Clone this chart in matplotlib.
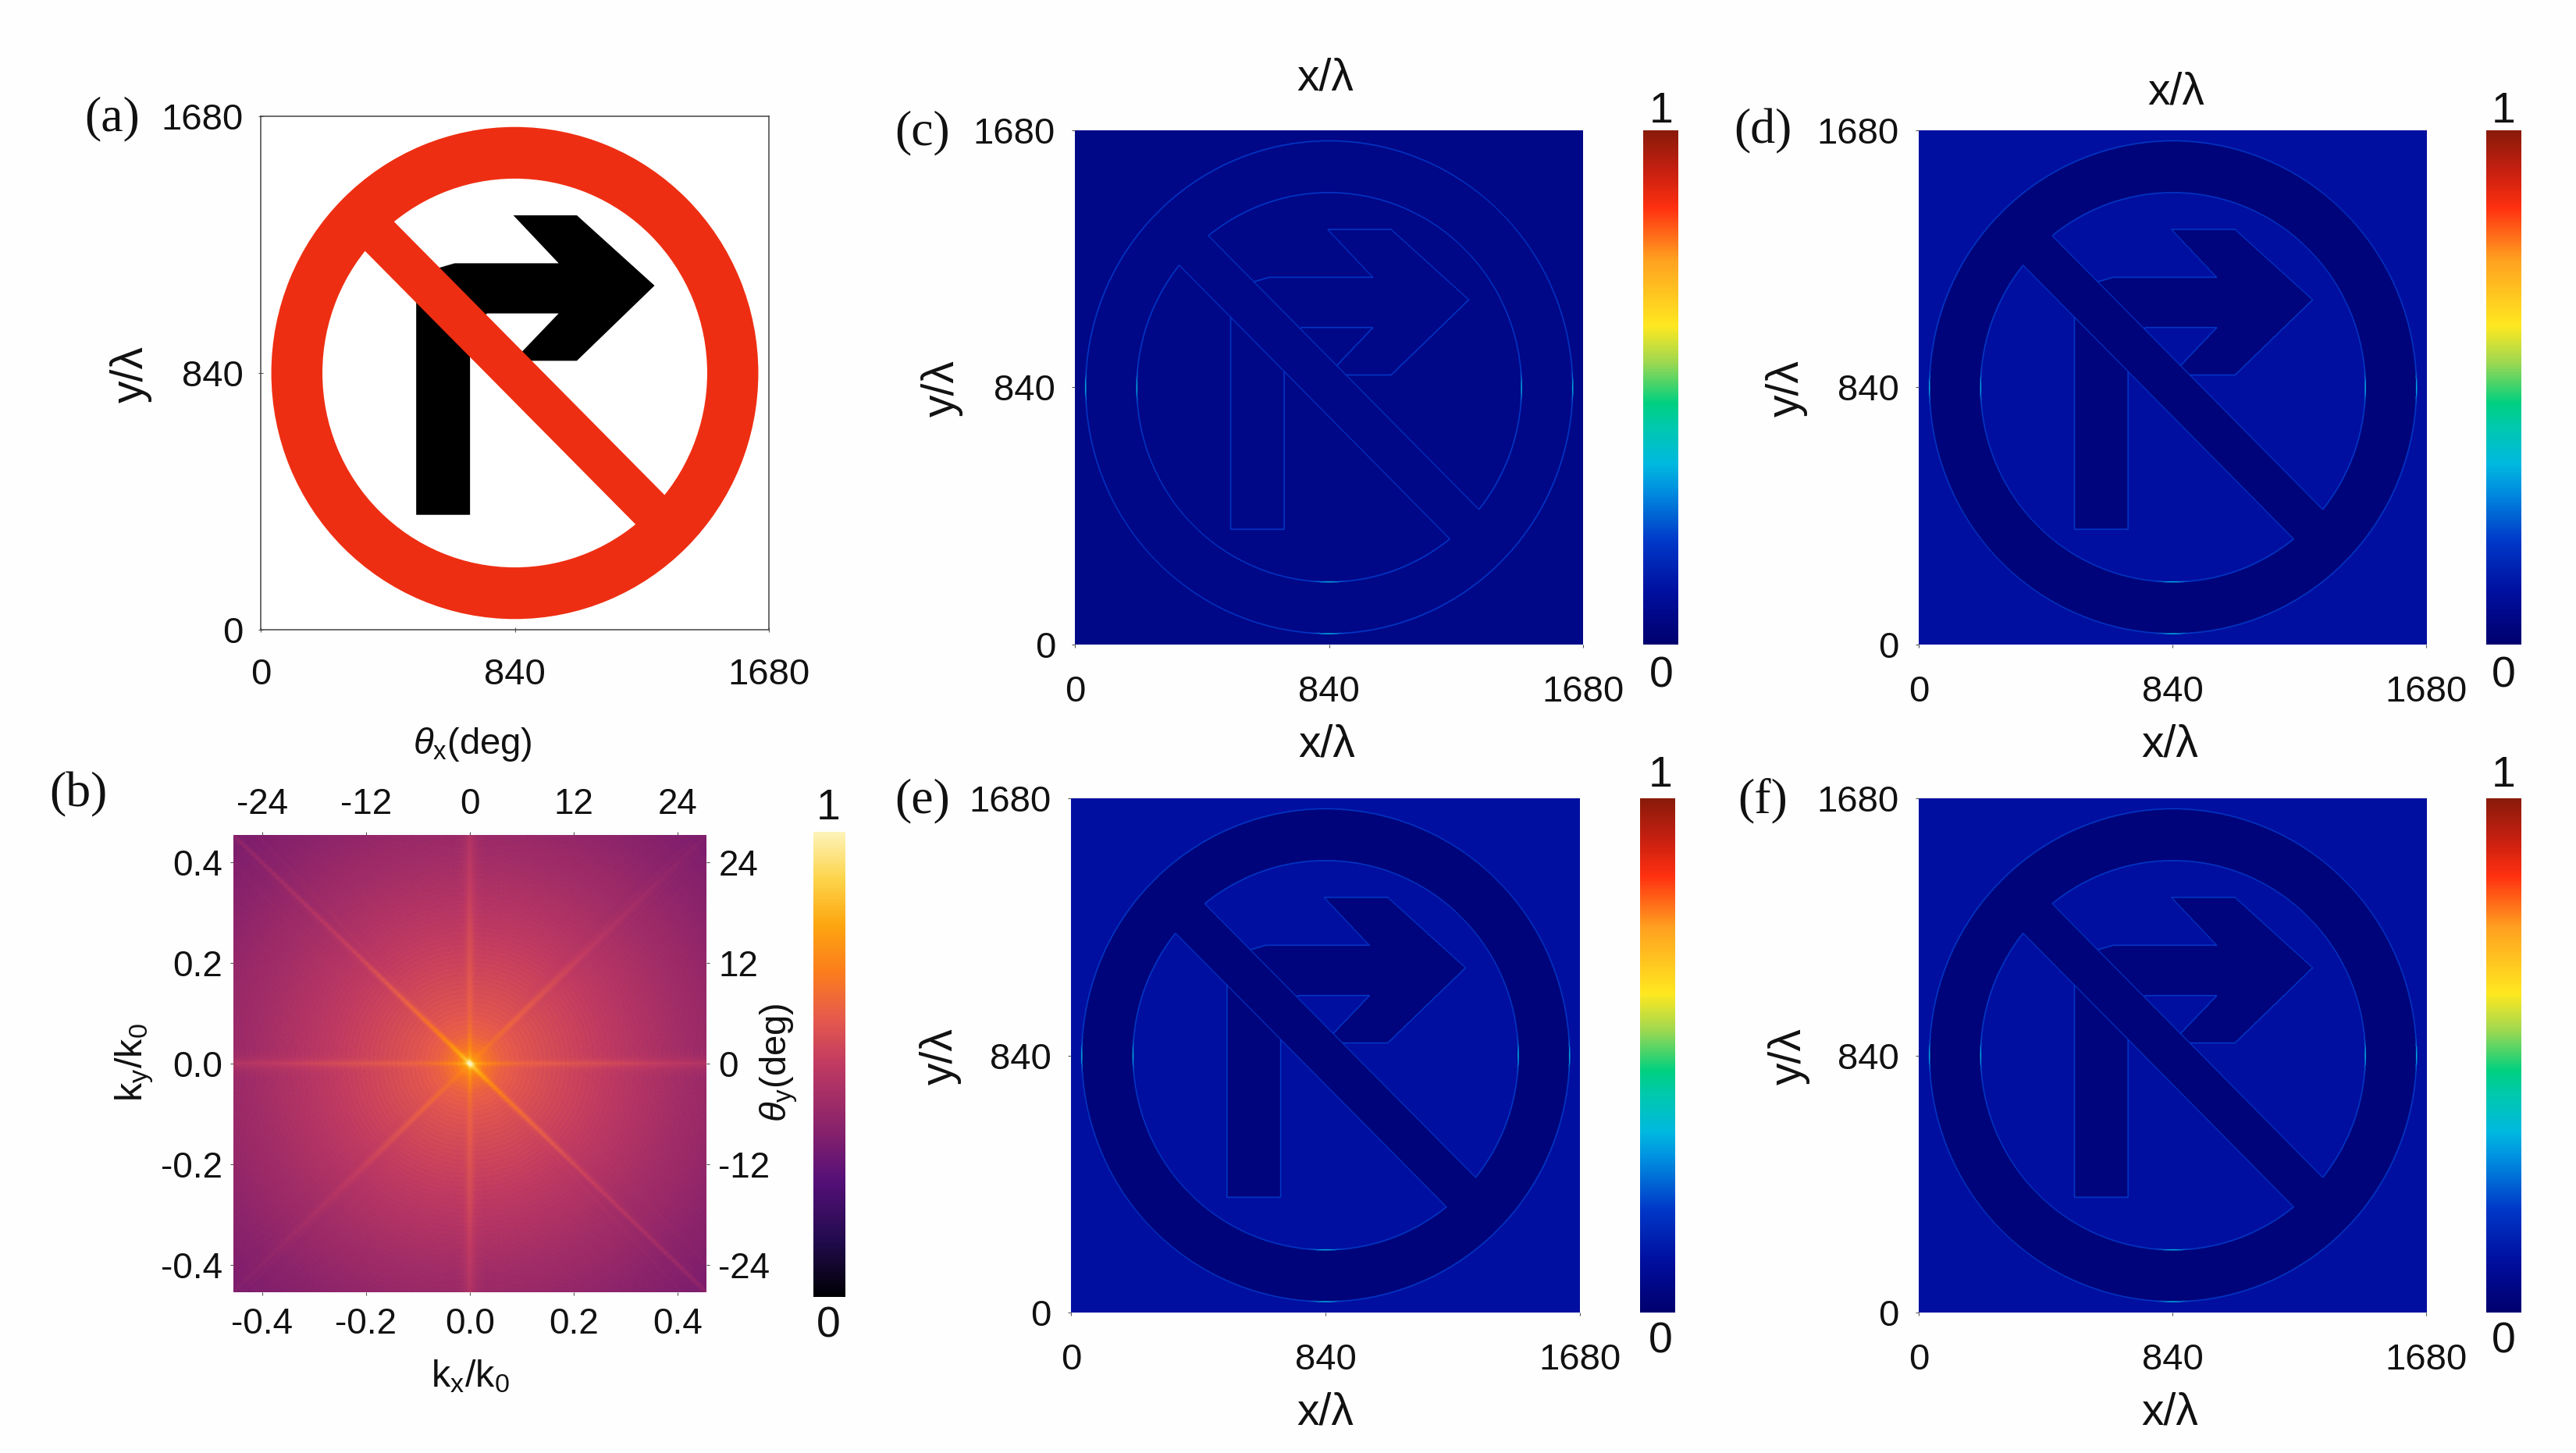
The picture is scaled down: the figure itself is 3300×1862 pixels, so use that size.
import numpy as np
import matplotlib
matplotlib.use("Agg")
import matplotlib.pyplot as plt
from matplotlib.path import Path
from matplotlib.patches import Annulus, Polygon
from matplotlib.colors import LinearSegmentedColormap, Normalize
from matplotlib.cm import ScalarMappable

plt.rcParams['font.family'] = ['Liberation Sans', 'DejaVu Sans']
plt.rcParams['mathtext.fontset'] = 'custom'
plt.rcParams['mathtext.rm'] = 'Liberation Sans'
plt.rcParams['mathtext.it'] = 'Liberation Sans:italic'
plt.rcParams['mathtext.default'] = 'regular'

# ---------- data ----------
SPACE_TICKS = [0, 840, 1680]
SPACE_LABELS = ['0', '840', '1680']
K_TICKS = [-0.4, -0.2, 0.0, 0.2, 0.4]
K_LABELS = ['-0.4', '-0.2', '0.0', '0.2', '0.4']
ANGLE_LABELS = ['-24', '-12', '0', '12', '24']
CBAR_LABELS = ['1', '0']

CENTER = (840, 840)
R_OUT = 805
R_IN = 636
BAR_XY = [(388, 1388), (1388, 388), (1292, 292), (292, 1292)]
ARROW_XY = [(514, 376), (692, 376), (692, 994), (749, 1035), (985, 1035), (835, 880),
            (1045, 880), (1302, 1126), (1045, 1356), (835, 1356), (985, 1199),
            (641, 1199), (575, 1180), (535, 1140), (514, 1075)]

# panels c, d, e, f
PANEL_NAMES = ['(c)', '(d)', '(e)', '(f)']
FIELD_OUTSIDE = [0.055, 0.105, 0.105, 0.105]
FIELD_ARROW = [0.055, 0.035, 0.035, 0.035]
FIELD_SIGN = [0.055, 0.030, 0.030, 0.030]
FIELD_EDGE = [0.20, 0.20, 0.20, 0.20]

# panel b: radial spectrum level and streak levels
K_RADIUS = [0.0, 0.012, 0.03, 0.06, 0.10, 0.18, 0.28, 0.38, 0.46, 0.55, 0.65]
SPEC_LEVEL = [0.86, 0.75, 0.68, 0.62, 0.585, 0.54, 0.49, 0.44, 0.405, 0.365, 0.33]
STREAK_R = [0.0, 0.03, 0.10, 0.30, 0.65]
STREAK_MAIN = [0.10, 0.11, 0.085, 0.045, 0.03]
STREAK_ANTI = [0.0, 0.015, 0.045, 0.03, 0.015]
STREAK_AXIS = [0.06, 0.05, 0.03, 0.04, 0.05]
AXIS_WIDTH = [0.003, 0.004, 0.006, 0.011, 0.02]

JET_POS = [0.0, 0.10, 0.20, 0.30, 0.35, 0.42, 0.47, 0.55, 0.62, 0.75, 0.85, 0.92, 1.0]
JET_COL = ['#00006e', '#000f9f', '#0038c8', '#0090e0', '#00b8e0', '#00c8b0', '#00d080',
           '#a0d850', '#ffe820', '#ffa020', '#ff3010', '#c82010', '#8a1a0a']
FIRE_POS = [0.0, 0.12, 0.25, 0.35, 0.50, 0.60, 0.70, 0.80, 0.90, 1.0]
FIRE_COL = ['#000004', '#220b4e', '#551078', '#84206c', '#c03a62', '#e65a4c', '#fb7d1c',
            '#fda50f', '#fdd44a', '#fdf3b8']

# ---------- layout (pixels) ----------
W, H = 3300, 1862
INK = '#111111'
jet = LinearSegmentedColormap.from_list('fieldjet', list(zip(JET_POS, JET_COL)))
fire = LinearSegmentedColormap.from_list('fire', list(zip(FIRE_POS, FIRE_COL)))

fig = plt.figure(figsize=(W / 100, H / 100), dpi=100, facecolor='#fefefe')


def add_axes(l, t, r, b):
    return fig.add_axes([l / W, 1 - b / H, (r - l) / W, (b - t) / H])


def label(x, y, s, size=34, rot=0, family=None):
    fig.text(x / W, 1 - y / H, s, ha='center', va='center', fontsize=size, rotation=rot,
             color=INK, family=family if family else plt.rcParams['font.family'])


def style_space(ax, xpad, ypad):
    ax.set_xlim(0, 1680)
    ax.set_ylim(0, 1680)
    ax.set_xticks(SPACE_TICKS, SPACE_LABELS)
    ax.set_yticks(SPACE_TICKS, SPACE_LABELS)
    ax.tick_params(axis='x', length=3, width=0.8, labelsize=34, pad=xpad, color='#555555', labelcolor=INK)
    ax.tick_params(axis='y', length=3, width=0.8, labelsize=34, pad=ypad, color='#555555', labelcolor=INK)


def sign_regions(n):
    """0 outside, 1 arrow, 2 ring and bar (the bar lies over the arrow)."""
    c = (np.arange(n) + 0.5) / n * 1680
    X, Y = np.meshgrid(c, c)
    pts = np.column_stack([X.ravel(), Y.ravel()])
    R = np.hypot(X - CENTER[0], Y - CENTER[1])
    ring = (R <= R_OUT) & (R >= R_IN)
    bar = Path(BAR_XY + [BAR_XY[0]]).contains_points(pts).reshape(n, n)
    arrow = Path(ARROW_XY + [ARROW_XY[0]]).contains_points(pts).reshape(n, n)
    reg = np.zeros((n, n), dtype=int)
    reg[arrow] = 1
    reg[ring | bar] = 2
    return reg, X, Y


REG, GX, GY = sign_regions(1300)
e_y = REG[:-1, :] != REG[1:, :]
e_x = REG[:, :-1] != REG[:, 1:]
EDGE = np.zeros_like(REG, dtype=bool)
EDGE[:-1, :] |= e_y
EDGE[1:, :] |= e_y
EDGE[:, :-1] |= e_x
EDGE[:, 1:] |= e_x
THICK = EDGE.copy()
THICK[1:, :] |= EDGE[:-1, :]
THICK[:, 1:] |= EDGE[:, :-1]
# edges brighten towards the left/right and lower extremes of the circles
GLOW = 1 + 0.7 * np.exp(-((GY - 840) / 35.0) ** 2) * (np.abs(GX - 840) > 560) \
         + 0.7 * np.exp(-((GX - 840) / 35.0) ** 2) * (GY < 260)

# ---------- panel a ----------
ax_a = add_axes(334, 149, 985, 807)
ax_a.add_patch(Annulus(CENTER, R_OUT, R_OUT - R_IN, facecolor='#ee2e12', edgecolor='none', zorder=3))
ax_a.add_patch(Polygon(ARROW_XY, closed=True, facecolor='black', edgecolor='none', zorder=2))
ax_a.add_patch(Polygon(BAR_XY, closed=True, facecolor='#ee2e12', edgecolor='none', zorder=4))
style_space(ax_a, 24, 14)
for s in ax_a.spines.values():
    s.set_linewidth(1.1)
    s.set_color('#444444')
ax_a.tick_params(direction='inout', length=4)
label(144, 152, '(a)', 46, family='Liberation Serif')
label(168, 480, 'y/λ', 41, 90)

# ---------- panel b ----------
ax_b = add_axes(299, 1070, 905, 1656)
K_LIM = 0.455
kn = 1024
kc = (np.arange(kn) + 0.5) / kn * 2 * K_LIM - K_LIM
KX, KY = np.meshgrid(kc, kc)
KR = np.hypot(KX, KY)
spec = np.interp(KR, K_RADIUS, SPEC_LEVEL)
d_main = np.abs(KX + KY) / np.sqrt(2)
d_anti = np.abs(KX - KY) / np.sqrt(2)
spec += np.interp(KR, STREAK_R, STREAK_MAIN) * np.exp(-(d_main / 0.005) ** 2)
spec += np.interp(KR, STREAK_R, STREAK_ANTI) * np.exp(-(d_anti / 0.005) ** 2)
w_axis = np.interp(KR, STREAK_R, AXIS_WIDTH)
a_axis = np.interp(KR, STREAK_R, STREAK_AXIS)
spec += a_axis * np.exp(-(np.abs(KX) / w_axis) ** 2) + a_axis * np.exp(-(np.abs(KY) / w_axis) ** 2)
# fine texture: the real spectrum of the sign itself, high-passed
small, *_ = sign_regions(kn)
F = np.log(np.abs(np.fft.fftshift(np.fft.fft2((small > 0).astype(float)))) + 1.0)
F = F[:, ::-1]
fx = np.fft.fftfreq(kn)
LP = np.exp(-(fx[:, None] ** 2 + fx[None, :] ** 2) / (2 * 0.01 ** 2))
smooth = np.fft.ifft2(np.fft.fft2(F) * LP).real
detail = np.clip((F - smooth) / np.std(F - smooth), -2.5, 2.5)
spec = spec + 0.008 * detail
ax_b.imshow(spec, cmap=fire, vmin=0, vmax=1, origin='lower', aspect='auto',
            extent=[-K_LIM, K_LIM, -K_LIM, K_LIM], interpolation='antialiased')
ax_b.set_xticks(K_TICKS, K_LABELS)
ax_b.set_yticks(K_TICKS, K_LABELS)
ax_b.tick_params(axis='both', length=3, width=0.8, labelsize=33, labelcolor=INK, color='#555555')
ax_b.tick_params(axis='x', pad=11)
ax_b.tick_params(axis='y', pad=7)
sec = ax_b.twinx()
sec.set_ylim(-K_LIM, K_LIM)
sec.set_yticks(K_TICKS, ANGLE_LABELS)
sec.tick_params(axis='y', length=3, width=0.8, labelsize=33, pad=8, labelcolor=INK, color='#555555')
top = ax_b.twiny()
top.set_xlim(-K_LIM, K_LIM)
top.set_xticks(K_TICKS, ANGLE_LABELS)
top.tick_params(axis='x', length=3, width=0.8, labelsize=33, pad=9, labelcolor=INK, color='#555555')
for a in (ax_b, sec, top):
    for s in a.spines.values():
        s.set_visible(False)
cb_b = add_axes(1042, 1066, 1083, 1662)
fig.colorbar(ScalarMappable(Normalize(0, 1), fire), cax=cb_b, ticks=[])
cb_b.spines['outline'].set_visible(False)
label(100, 1018, '(b)', 46, family='Liberation Serif')
label(605, 954, r'$\mathit{\theta}_{x}$(deg)', 34)
label(172, 1362, 'k$_{y}$/k$_{0}$', 35, 90)
label(602, 1764, 'k$_{x}$/k$_{0}$', 35)
label(998, 1362, r'$\mathit{\theta}_{y}$(deg)', 34, 90)
label(1061, 1036, CBAR_LABELS[0], 40)
label(1061, 1699, CBAR_LABELS[1], 40)

# ---------- panels c-f ----------
RECTS = [(1377, 167, 2028, 826), (2458, 167, 3108, 826), (1372, 1023, 2024, 1682), (2458, 1023, 3108, 1682)]
CBARS = [(2105, 2150), (3185, 3230), (2101, 2146), (3185, 3230)]
NAME_XY = [(1182, 170), (2258, 168), (1182, 1026), (2258, 1026)]
YLAB_XY = [(1207, 498), (2289, 498), (1205, 1354), (2292, 1354)]
XTOP_XY = [(1698, 101), (2788, 119), (1700, 954), (2780, 954)]
ONE_XY = [(2128, 143), (3207, 143), (2127, 994), (3207, 994)]
ZERO_XY = [(2128, 867), (3207, 867), (2127, 1719), (3207, 1719)]
for i, rect in enumerate(RECTS):
    ax = add_axes(*rect)
    field = np.full(REG.shape, FIELD_OUTSIDE[i], dtype=float)
    field[REG == 1] = FIELD_ARROW[i]
    field[REG == 2] = FIELD_SIGN[i]
    field = np.where(THICK, FIELD_EDGE[i] * GLOW, field)
    ax.imshow(field, cmap=jet, vmin=0, vmax=1, origin='lower', aspect='auto',
              extent=[0, 1680, 0, 1680], interpolation='antialiased')
    style_space(ax, 25, 15)
    for s in ax.spines.values():
        s.set_visible(False)
    cax = add_axes(CBARS[i][0], rect[1], CBARS[i][1], rect[3])
    fig.colorbar(ScalarMappable(Normalize(0, 1), jet), cax=cax, ticks=[])
    cax.spines['outline'].set_visible(False)
    label(*NAME_XY[i], PANEL_NAMES[i], 46, family='Liberation Serif')
    label(*YLAB_XY[i], 'y/λ', 41, 90)
    label(*XTOP_XY[i], 'x/λ', 41)
    label(*ONE_XY[i], CBAR_LABELS[0], 40)
    label(*ZERO_XY[i], CBAR_LABELS[1], 40)
label(1698, 1810, 'x/λ', 41)
label(2780, 1810, 'x/λ', 41)

fig.savefig('out.png', dpi=100, facecolor=fig.get_facecolor())
